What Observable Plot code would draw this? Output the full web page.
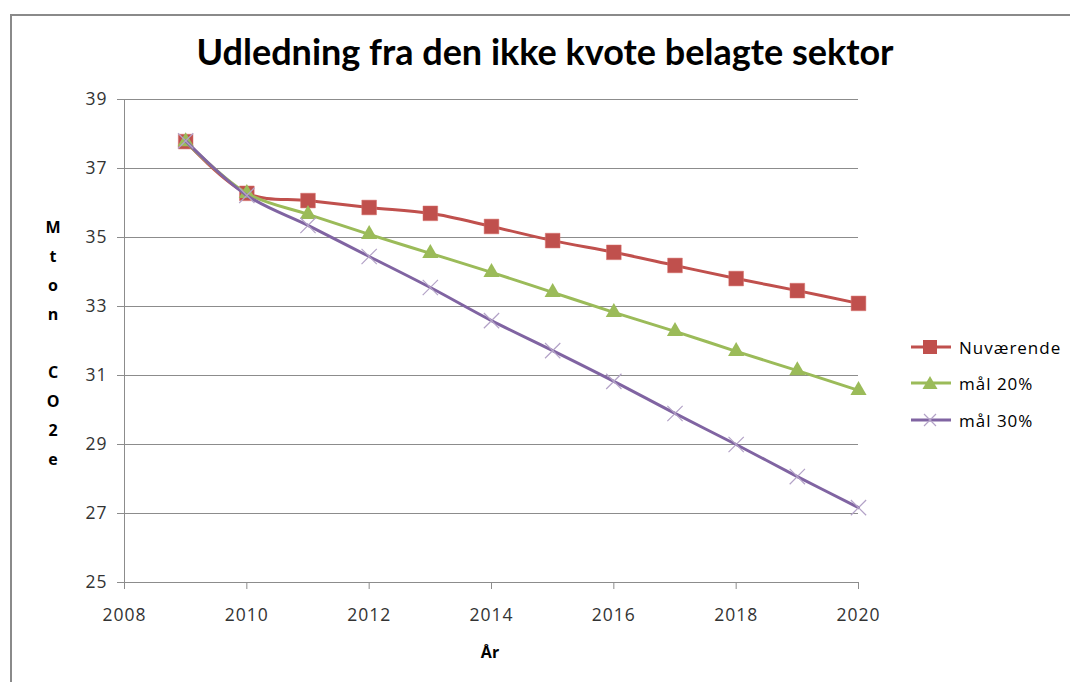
<!DOCTYPE html>
<html>
<head>
<meta charset="utf-8">
<script src="https://cdn.jsdelivr.net/npm/d3@7"></script>
<script src="https://cdn.jsdelivr.net/npm/@observablehq/plot@0.6"></script>
<style>
  body { margin: 0; background: #fff; font-family: "Open Sans", Lato, sans-serif; }
  #wrap { position: relative; width: 1070px; height: 682px; overflow: hidden; }
  #frame { position: absolute; left: 10px; top: 14px; width: 1100px; height: 700px;
           border-top: 2px solid #8a8a8a; border-left: 2px solid #8a8a8a; box-sizing: border-box; }
  #title { position: absolute; left: 0; width: 1090px; top: 29px; text-align: center;
           font-family: Lato, sans-serif; font-weight: bold; font-size: 36px; color: #000; }
  #ylab { position: absolute; left: 40px; width: 26px; top: 213px; text-align: center;
          font-weight: bold; font-size: 16px; line-height: 29px; }
  #ylab span { display: block; height: 29px; }
  #xlab { position: absolute; left: 470px; width: 40px; top: 641px; text-align: center;
          font-weight: bold; font-size: 16px; }
  #legend { position: absolute; left: 910px; top: 335px; font-size: 17px; letter-spacing: 1px; }
  .li { position: absolute; left: 0; display: flex; align-items: center; white-space: nowrap; }
  .li svg { margin-right: 7px; }
  #chart { position: absolute; left: 0; top: 0; }
</style>
</head>
<body>
<div id="wrap">
  <div id="frame"></div>
  <div id="chart"></div>
  <div id="title">Udledning fra den ikke kvote belagte sektor</div>
  <div id="ylab"><span>M</span><span>t</span><span>o</span><span>n</span><span> </span><span>C</span><span>O</span><span>2</span><span>e</span></div>
  <div id="xlab">År</div>
  <div id="legend"></div>
</div>
<script>
const years = [2009, 2010, 2011, 2012, 2013, 2014, 2015, 2016, 2017, 2018, 2019, 2020];
const nuvaerende = [37.78, 36.28, 36.07, 35.87, 35.70, 35.32, 34.91, 34.57, 34.19, 33.81, 33.46, 33.09];
const maal20 = [37.78, 36.28, 35.67, 35.09, 34.54, 33.99, 33.41, 32.83, 32.28, 31.70, 31.14, 30.57];
const maal30 = [37.80, 36.22, 35.35, 34.45, 33.55, 32.59, 31.72, 30.83, 29.90, 29.00, 28.07, 27.17];
const seriesNames = ["Nuværende", "mål 20%", "mål 30%"];
const colors = ["#c0504d", "#9bbb59", "#8064a2"];
const xTicks = [2008, 2010, 2012, 2014, 2016, 2018, 2020];
const yTicks = [25, 27, 29, 31, 33, 35, 37, 39];

const seriesValues = [nuvaerende, maal20, maal30];
const data = [];
seriesNames.forEach((s, i) => years.forEach((yr, j) => data.push({series: s, year: yr, value: seriesValues[i][j]})));
const bySeries = s => data.filter(d => d.series === s);

const plot = Plot.plot({
  width: 1070, height: 682,
  marginLeft: 124, marginRight: 212, marginTop: 99, marginBottom: 100,
  style: { fontFamily: "'Open Sans', Lato, sans-serif", fontSize: "17.5px", letterSpacing: "1px", color: "#333", background: "transparent" },
  x: { domain: [2008, 2020], ticks: xTicks, tickFormat: d => String(d) },
  y: { domain: [25, 39], ticks: yTicks },
  marks: [
    Plot.gridY(yTicks, { stroke: "#8c8c8c", strokeOpacity: 1, strokeWidth: 1 }),
    Plot.axisY({ ticks: yTicks, tickSize: 7, tickPadding: 10, stroke: "#8c8c8c", label: null, fill: "#333" }),
    Plot.axisX({ ticks: xTicks, tickSize: 7, tickPadding: 19, tickFormat: d => String(d), stroke: "#8c8c8c", label: null, fill: "#333" }),
    Plot.ruleX([2008], { stroke: "#8c8c8c" }),
    Plot.ruleY([25], { stroke: "#8c8c8c" }),
    Plot.line(bySeries("Nuværende"), { x: "year", y: "value", stroke: colors[0], strokeWidth: 3, curve: "catmull-rom" }),
    Plot.dot(bySeries("Nuværende"), { x: "year", y: "value", symbol: "square", fill: colors[0], stroke: "#d9736f", strokeWidth: 0.5, r: 8.3 }),
    Plot.line(bySeries("mål 20%"), { x: "year", y: "value", stroke: colors[1], strokeWidth: 3, curve: "catmull-rom" }),
    Plot.dot(bySeries("mål 20%"), { x: "year", y: "value", symbol: "triangle", fill: colors[1], r: 6 }),
    Plot.line(bySeries("mål 30%"), { x: "year", y: "value", stroke: colors[2], strokeWidth: 3, curve: "catmull-rom" }),
    Plot.dot(bySeries("mål 30%"), { x: "year", y: "value", symbol: "times", stroke: "#b3a2c7", strokeWidth: 1.2, r: 7 })
  ]
});
document.getElementById("chart").appendChild(plot);

// Legend
const legend = document.getElementById("legend");
const legendTops = [0, 36, 73];
const markerSvg = [
  `<rect x="13" y="5" width="14" height="14" fill="${colors[0]}"/>`,
  `<polygon points="20,5 27.5,18 12.5,18" fill="${colors[1]}"/>`,
  `<path d="M14,6 L26,18 M26,6 L14,18" stroke="#b3a2c7" stroke-width="1.2"/>`
];
seriesNames.forEach((name, i) => {
  const div = document.createElement("div");
  div.className = "li";
  div.style.top = legendTops[i] + "px";
  div.innerHTML = `<svg width="42" height="24"><line x1="1" x2="41" y1="12" y2="12" stroke="${colors[i]}" stroke-width="3"/>${markerSvg[i]}</svg><span>${name}</span>`;
  legend.appendChild(div);
});
</script>
</body>
</html>
